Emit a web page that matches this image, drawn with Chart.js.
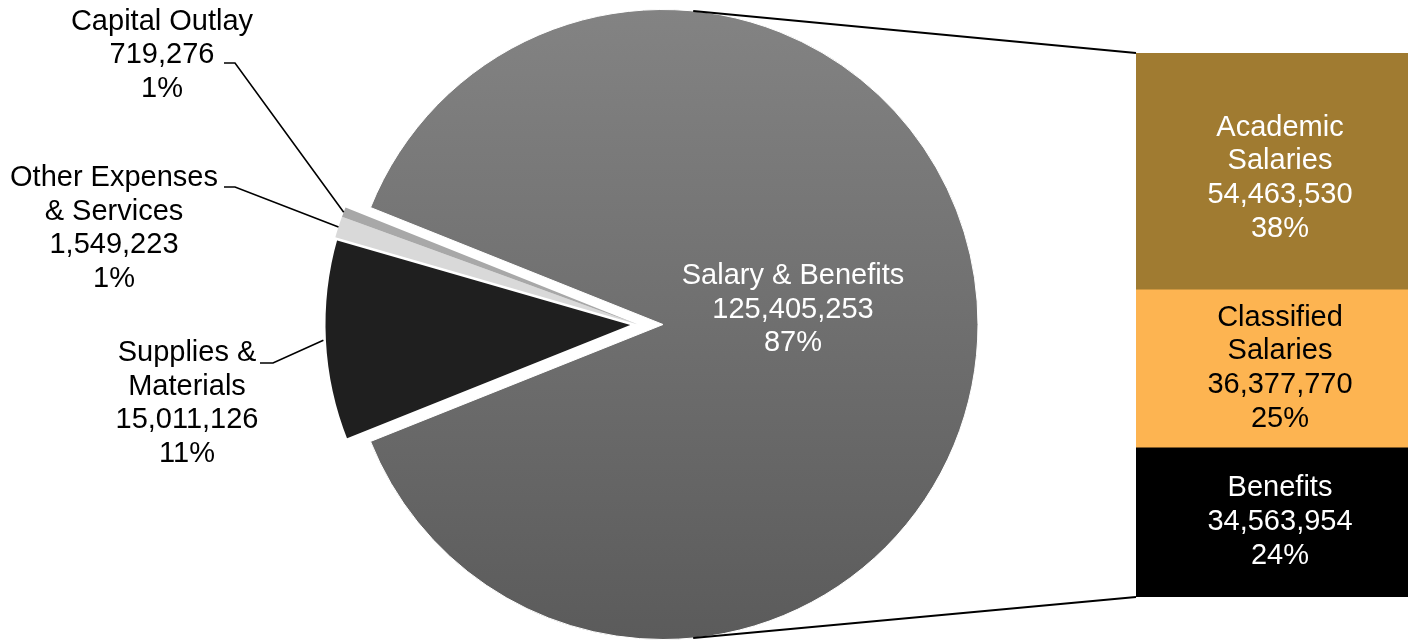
<!DOCTYPE html>
<html>
<head>
<meta charset="utf-8">
<script src="https://cdn.jsdelivr.net/npm/chart.js@4.4.1/dist/chart.umd.min.js"></script>
<style>
html,body{margin:0;padding:0;background:#fff;overflow:hidden;}
#stage{position:relative;width:1408px;height:640px;overflow:hidden;}
#pieWrap{position:absolute;left:0;top:0;width:1408px;height:640px;}
#barWrap{position:absolute;left:1136px;top:0;width:288px;height:640px;}
</style>
</head>
<body>
<div id="stage">
  <div id="pieWrap"><canvas id="pie"></canvas></div>
  <div id="barWrap"><canvas id="bar"></canvas></div>
</div>
<script>
// ---------------- data ----------------
const pieCategories = [["Salary & Benefits"], ["Supplies &", "Materials"], ["Other Expenses", "& Services"], ["Capital Outlay"]];
const pieValues = [125405253, 15011126, 1549223, 719276];
const piePercentLabels = ["87%", "11%", "1%", "1%"];

const barCategories = [["Academic", "Salaries"], ["Classified", "Salaries"], ["Benefits"]];
const barValues = [54463530, 36377770, 34563954];
const barPercentLabels = ["38%", "25%", "24%"];

// ---------------- styles / layout ----------------
const FONT = '"Liberation Sans", Arial, Helvetica, sans-serif';
const FONT_SIZE = 29;
const LINE_H = 33.7;
const PIE_R = 315;
const PIE_ROTATION = 291.8;
const EXPLODE_GROUP = [false, true, true, true]; // slices pulled out together
const EXPLODE_DIST = 25;
const pieFill = [null, '#1f1f1f', '#d9d9d9', '#a8a8a8'];
const pieBorder = [1, 5, 0, 0];
const barFill = ['#a07b31', '#fdb451', '#000000'];
const barText = ['#ffffff', '#000000', '#ffffff'];
const barLabelShift = [7, 0, 0];
const CONNECT_ANGLE = 84.5;                   // degrees from horizontal, on main circle
const pieLabelLayout = [
  {x: 793, y: 276, color: '#ffffff'},
  {x: 187, y: 353, color: '#000000', leader: [260, 273, 363]},
  {x: 114, y: 178, color: '#000000', leader: [224, 235, 187]},
  {x: 162, y: 21.5, color: '#000000', leader: [224, 235, 63]}
];

const fmt = v => v.toLocaleString('en-US');
Chart.defaults.font.family = FONT;

function drawLines(ctx, lines, x, y0, color) {
  ctx.save();
  ctx.font = FONT_SIZE + 'px ' + FONT;
  ctx.fillStyle = color;
  ctx.textAlign = 'center';
  ctx.textBaseline = 'middle';
  lines.forEach((t, k) => ctx.fillText(t, x, y0 + k * LINE_H));
  ctx.restore();
}

// ---------------- bar chart ----------------
const barTotal = barValues.reduce((a, b) => a + b, 0);
const barLabelPlugin = {
  id: 'barLabels',
  afterDatasetsDraw(chart) {
    const ctx = chart.ctx;
    chart.data.datasets.forEach((ds, i) => {
      const el = chart.getDatasetMeta(i).data[0];
      const cy = (el.y + el.base) / 2 + barLabelShift[i];
      const lines = [...barCategories[i], fmt(barValues[i]), barPercentLabels[i]];
      drawLines(ctx, lines, el.x, cy - (lines.length - 1) / 2 * LINE_H, barText[i]);
    });
  }
};

const barChart = new Chart(document.getElementById('bar'), {
  type: 'bar',
  data: {
    labels: [''],
    datasets: barValues.map((v, i) => ({
      label: barCategories[i].join(' '),
      data: [v],
      backgroundColor: barFill[i],
      borderWidth: 0,
      barPercentage: 1,
      categoryPercentage: 1
    }))
  },
  options: {
    responsive: true,
    maintainAspectRatio: false,
    animation: false,
    events: [],
    layout: {padding: {top: 53, bottom: 43, left: 0, right: 0}},
    plugins: {legend: {display: false}, tooltip: {enabled: false}},
    scales: {
      x: {display: false, stacked: true},
      y: {display: false, stacked: true, reverse: true, min: 0, max: barTotal}
    }
  },
  plugins: [barLabelPlugin]
});

// ---------------- pie chart ----------------
function salaryGradient(c) {
  const ch = c.chart;
  const a = ch.chartArea;
  if (!a) return '#6f6f6f';
  const cy = (a.top + a.bottom) / 2;
  const g = ch.ctx.createLinearGradient(0, cy - PIE_R, 0, cy + PIE_R);
  g.addColorStop(0, '#838383');
  g.addColorStop(1, '#5b5b5b');
  return g;
}

function explodeShift(arcs) {
  const grp = arcs.filter((e, i) => EXPLODE_GROUP[i]);
  const s = Math.min(...grp.map(e => e.startAngle));
  const e = Math.max(...grp.map(e => e.endAngle));
  const mid = (s + e) / 2;
  return {x: Math.cos(mid) * EXPLODE_DIST, y: Math.sin(mid) * EXPLODE_DIST};
}

const pieDecor = {
  id: 'pieDecor',
  beforeDatasetDraw(chart, args) {
    // draw the library's arc elements, pulling the small slices out together
    const ctx = chart.ctx;
    const arcs = args.meta.data;
    const sh = explodeShift(arcs);
    arcs.forEach((el, i) => {
      ctx.save();
      if (EXPLODE_GROUP[i]) ctx.translate(sh.x, sh.y);
      el.draw(ctx);
      ctx.restore();
    });
    return false;
  },
  afterDatasetsDraw(chart) {
    const ctx = chart.ctx;
    const arcs = chart.getDatasetMeta(0).data;
    const main = arcs[0];
    const cx = main.x, cy = main.y;
    const sh = explodeShift(arcs);

    // connector lines to the bar
    const pr = chart.canvas.getBoundingClientRect();
    const br = barChart.canvas.getBoundingClientRect();
    const dx = br.left - pr.left, dy = br.top - pr.top;
    const first = barChart.getDatasetMeta(0).data[0];
    const last = barChart.getDatasetMeta(barValues.length - 1).data[0];
    const bLeft = first.x - first.width / 2 + dx;
    const bTop = Math.min(first.y, first.base) + dy;
    const bBottom = Math.max(last.y, last.base) + dy;
    const ang = CONNECT_ANGLE * Math.PI / 180;
    ctx.save();
    ctx.strokeStyle = '#000';
    ctx.lineWidth = 2;
    ctx.beginPath();
    ctx.moveTo(cx + PIE_R * Math.cos(-ang), cy + PIE_R * Math.sin(-ang));
    ctx.lineTo(bLeft, bTop);
    ctx.moveTo(cx + PIE_R * Math.cos(ang), cy + PIE_R * Math.sin(ang));
    ctx.lineTo(bLeft, bBottom);
    ctx.stroke();

    // leader lines
    ctx.lineWidth = 1.6;
    arcs.forEach((el, i) => {
      const L = pieLabelLayout[i];
      if (!L.leader) return;
      const mid = (el.startAngle + el.endAngle) / 2;
      const px = cx + Math.cos(mid) * PIE_R + (EXPLODE_GROUP[i] ? sh.x : 0);
      const py = cy + Math.sin(mid) * PIE_R + (EXPLODE_GROUP[i] ? sh.y : 0);
      ctx.beginPath();
      ctx.moveTo(L.leader[0], L.leader[2]);
      ctx.lineTo(L.leader[1], L.leader[2]);
      ctx.lineTo(px, py);
      ctx.stroke();
    });
    ctx.restore();

    // labels
    arcs.forEach((el, i) => {
      const L = pieLabelLayout[i];
      const lines = [...pieCategories[i], fmt(pieValues[i]), piePercentLabels[i]];
      drawLines(ctx, lines, L.x, L.y, L.color);
    });
  }
};

new Chart(document.getElementById('pie'), {
  type: 'pie',
  data: {
    labels: pieCategories.map(c => c.join(' ')),
    datasets: [{
      data: pieValues,
      backgroundColor: c => c.dataIndex === 0 ? salaryGradient(c) : pieFill[c.dataIndex],
      borderColor: '#ffffff',
      borderWidth: pieBorder,
      radius: PIE_R,
      rotation: PIE_ROTATION
    }]
  },
  options: {
    responsive: true,
    maintainAspectRatio: false,
    animation: false,
    events: [],
    radius: PIE_R,
    rotation: PIE_ROTATION,
    layout: {padding: {left: 0, right: 1408 - 2 * 663, top: 9, bottom: 0}},
    plugins: {legend: {display: false}, tooltip: {enabled: false}}
  },
  plugins: [pieDecor]
});
</script>
</body>
</html>
